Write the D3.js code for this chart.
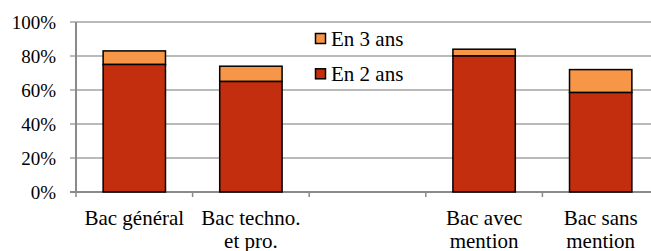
<!DOCTYPE html>
<html>
<head>
<meta charset="utf-8">
<script src="https://cdn.jsdelivr.net/npm/d3@7"></script>
</head>
<body style="margin:0">
<svg id="chart" width="651" height="251"></svg>
<script>
// data
var categories   = ['Bac général', 'Bac techno.\net pro.', '', 'Bac avec\nmention', 'Bac sans\nmention'];
var en_2_ans     = [75, 65, null, 80, 58.5];
var en_3_ans     = [83, 74, null, 84, 72];
var y_ticks      = [0, 20, 40, 60, 80, 100];
var series_names = ['En 3 ans', 'En 2 ans'];

// colors
var color_2_ans = '#c32f0e';
var color_3_ans = '#f79646';

// canvas
var svg = d3.select('#chart');

// text helper
function add_text(str, tx, ty, size, anchor) {
    return svg.append('text')
        .attr('x', tx)
        .attr('y', ty)
        .attr('style', "font-family: 'Liberation Serif', 'Times New Roman', Tinos !important; font-size: " + size + 'px; text-anchor: ' + anchor + ';')
        .text(str);
}

// scales
var x = d3.scaleBand()
    .domain(d3.range(categories.length))
    .range([76, 659])
    .paddingInner(0.465)
    .paddingOuter(0.2325);

var y = d3.scaleLinear()
    .domain([0, 100])
    .range([192, 22]);

// gridlines
svg.append('g')
    .selectAll('line')
    .data(y_ticks.filter(function(d) { return d > 0; }))
    .join('line')
    .attr('x1', 70)
    .attr('x2', 651)
    .attr('y1', function(d) { return y(d); })
    .attr('y2', function(d) { return y(d); })
    .attr('stroke', '#a3a3a3')
    .attr('stroke-width', 1.5);

// y axis line and tick at 0
svg.append('line')
    .attr('x1', 76).attr('x2', 76)
    .attr('y1', y(0)).attr('y2', y(100))
    .attr('stroke', '#8a8a8a')
    .attr('stroke-width', 2);
svg.append('line')
    .attr('x1', 70).attr('x2', 76)
    .attr('y1', y(0)).attr('y2', y(0))
    .attr('stroke', '#8a8a8a')
    .attr('stroke-width', 1.5);

// y tick labels
y_ticks.forEach(function(d) {
    add_text(d + '%', 56, y(d) + 6.5, 19, 'end');
});

// x axis line
svg.append('line')
    .attr('x1', 70)
    .attr('x2', 651)
    .attr('y1', y(0))
    .attr('y2', y(0))
    .attr('stroke', '#8a8a8a')
    .attr('stroke-width', 2);

// x ticks at category boundaries
svg.append('g')
    .selectAll('line')
    .data(d3.range(categories.length + 1))
    .join('line')
    .attr('x1', function(i) { return 76 + i * x.step(); })
    .attr('x2', function(i) { return 76 + i * x.step(); })
    .attr('y1', y(0))
    .attr('y2', y(0) + 5)
    .attr('stroke', '#8a8a8a')
    .attr('stroke-width', 1.5);

// bars
categories.forEach(function(c, i) {
    if (en_2_ans[i] == null) return;

    // en 3 ans (top part)
    svg.append('rect')
        .attr('x', x(i))
        .attr('width', x.bandwidth())
        .attr('y', y(en_3_ans[i]))
        .attr('height', y(en_2_ans[i]) - y(en_3_ans[i]))
        .attr('fill', color_3_ans)
        .attr('stroke', '#000')
        .attr('stroke-width', 1.5);

    // en 2 ans (bottom part)
    svg.append('rect')
        .attr('x', x(i))
        .attr('width', x.bandwidth())
        .attr('y', y(en_2_ans[i]))
        .attr('height', y(0) - y(en_2_ans[i]))
        .attr('fill', color_2_ans)
        .attr('stroke', '#000')
        .attr('stroke-width', 1.5);
});

// category labels
categories.forEach(function(c, i) {
    var cx = x(i) + x.bandwidth() / 2;
    c.split('\n').forEach(function(line, k) {
        if (line == '') return;
        add_text(line, cx, 225 + k * 22.5, 21, 'middle');
    });
});

// legend
var legend_colors = [color_3_ans, color_2_ans];
series_names.forEach(function(name, k) {
    svg.append('rect')
        .attr('x', 315.5)
        .attr('y', 33.5 + k * 35.3)
        .attr('width', 10)
        .attr('height', 10)
        .attr('fill', legend_colors[k])
        .attr('stroke', '#000')
        .attr('stroke-width', 1.5);
    add_text(name, 331, 46 + k * 35.3, 21, 'start');
});
</script>
</body>
</html>
